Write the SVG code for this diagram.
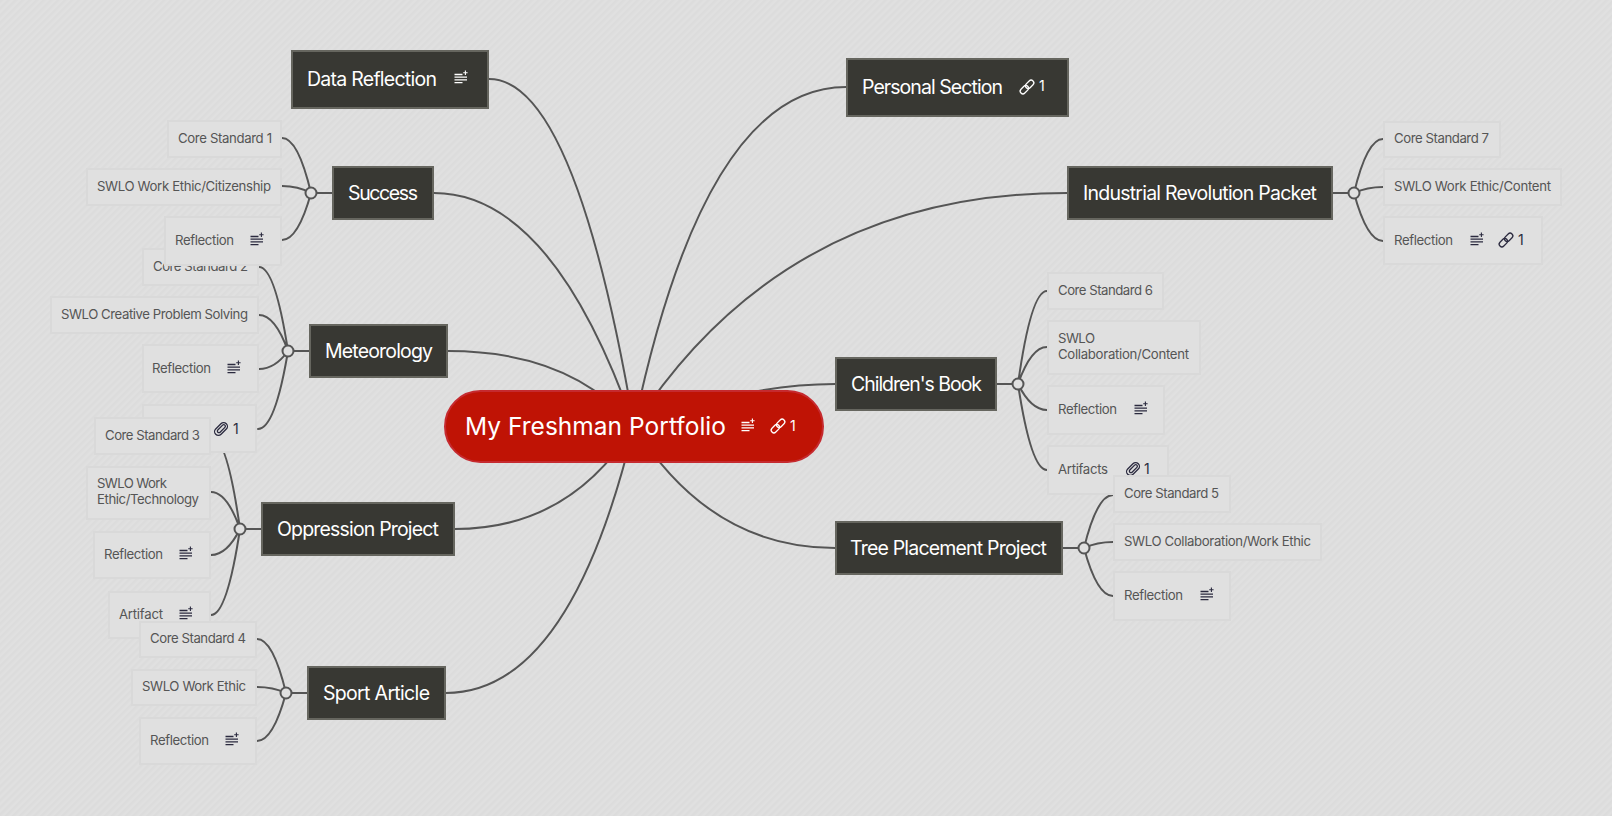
<svg xmlns="http://www.w3.org/2000/svg" width="1612" height="816" viewBox="0 0 1612 816">
<style>
text{font-family:Inter,"Liberation Sans",sans-serif}
.bg{fill:url(#hatch)}
.c{fill:none;stroke:#555;stroke-width:2;stroke-linecap:round}
.hub{fill:#e0e0e0;stroke:#555;stroke-width:2}
.r{fill:#bf1305;stroke:#c52a2f;stroke-width:2}
.m{fill:#383833;stroke:#66665f;stroke-width:2}
.s{fill:#e0e0e0;stroke:#d9d9d9;stroke-width:2}
.tr{fill:#fff;font-size:24.5px}
.tm{fill:#fff;font-size:19.5px;transform:translateY(.5px)}
.ts{fill:#555;font-size:13.2px}
.n{font-size:14px}
.w{color:#fff;fill:#fff}
.d{color:#2b2a3f;fill:#2b2a3f}
.ic{fill:none;stroke:currentColor;stroke-width:1.3}
</style>
<defs>
<pattern id="hatch" width="5" height="5" patternUnits="userSpaceOnUse" patternTransform="rotate(45)">
<rect width="5" height="5" fill="#e0e0e0"/><rect width="2.5" height="5" fill="#dcdcdc"/>
</pattern>
<g id="note" class="ic"><path d="M-6.5 -3.5H1.5M-6.5 -.8H6M-6.5 1.9H6M-6.5 4.6H1.5"/><path d="M2.2 -5.2H6.6M4.4 -7.4V-3" stroke-width="1.1"/></g>
<g id="link" class="ic"><g transform="rotate(-45)"><rect x="-8.5" y="-2.7" width="9.5" height="5.4" rx="2.7"/><rect x="-1" y="-2.7" width="9.5" height="5.4" rx="2.7"/></g></g>
<g id="clip" class="ic"><g transform="rotate(-45)"><rect x="-7.5" y="-3.8" width="15" height="7.6" rx="3.8"/><rect x="-4.5" y="-1.6" width="10" height="3.2" rx="1.6"/></g></g>
</defs>
<rect class="bg" width="1612" height="816"/>
<g id="connectors">
<path class="c" d="M489 79Q575 79 634 426"/>
<path class="c" d="M434 193Q552 193 634 426"/>
<path class="c" d="M448 351Q570 351 634 426"/>
<path class="c" d="M455 529Q570 529 634 426"/>
<path class="c" d="M446 693Q570 693 634 426"/>
<path class="c" d="M846 87Q705 87 634 426"/>
<path class="c" d="M1067 193Q785 193 634 426"/>
<path class="c" d="M835 384Q745 384 634 426"/>
<path class="c" d="M835 548Q710 548 634 426"/>
<path class="c" d="M311 193H332M282 138Q298 138 311 193M282 186Q298 186 311 193M282 240Q298 240 311 193"/>
<path class="c" d="M288 351H309M259 267Q275 267 288 351M259 315Q275 315 288 351M259 369Q275 369 288 351M258 429Q275 429 288 351"/>
<path class="c" d="M240 529H261M211 436Q227 436 240 529M211 492Q227 492 240 529M211 555Q227 555 240 529M211 615Q227 615 240 529"/>
<path class="c" d="M286 693H307M257 639Q273 639 286 693M257 687Q273 687 286 693M257 741Q273 741 286 693"/>
<path class="c" d="M1333 193H1354M1383 139Q1367 139 1354 193M1383 187Q1367 187 1354 193M1383 241Q1367 241 1354 193"/>
<path class="c" d="M997 384H1018M1047 291Q1031 291 1018 384M1047 347Q1031 347 1018 384M1047 410Q1031 410 1018 384M1047 470Q1031 470 1018 384"/>
<path class="c" d="M1063 548H1084M1113 495Q1097 495 1084 548M1113 542Q1097 542 1084 548M1113 596Q1097 596 1084 548"/>
</g>
<g id="meteorology">
<rect class="m" x="310" y="325" width="137" height="52"/><text class="tm" x="325" y="357" textLength="108">Meteorology</text>
<circle class="hub" cx="288" cy="351" r="5.5"/>
<rect class="s" x="143" y="249" width="115" height="36"/><text class="ts" x="153" y="271" textLength="95">Core Standard 2</text>
<rect class="s" x="51" y="297" width="207" height="36"/><text class="ts" x="61" y="319" textLength="187">SWLO Creative Problem Solving</text>
<rect class="s" x="143" y="345" width="115" height="47"/><text class="ts" x="152" y="373" textLength="59">Reflection</text><use href="#note" class="d" x="234" y="368"/>
<rect class="s" x="143" y="405" width="113" height="47"/><use href="#clip" class="d" x="221" y="429"/><text class="ts n d" x="233" y="434" style="fill:#2b2a3f">1</text>
</g>
<g id="success">
<rect class="m" x="333" y="167" width="100" height="52"/><text class="tm" x="348" y="199" textLength="70">Success</text>
<circle class="hub" cx="311" cy="193" r="5.5"/>
<rect class="s" x="168" y="121" width="113" height="36"/><text class="ts" x="178" y="143" textLength="94">Core Standard 1</text>
<rect class="s" x="87" y="169" width="194" height="36"/><text class="ts" x="97" y="191" textLength="174">SWLO Work Ethic/Citizenship</text>
<rect class="s" x="165" y="217" width="116" height="48"/><text class="ts" x="175" y="245" textLength="59">Reflection</text><use href="#note" class="d" x="257" y="240"/>
</g>
<g id="oppression-project">
<rect class="m" x="262" y="503" width="192" height="52"/><text class="tm" x="277" y="535" textLength="162">Oppression Project</text>
<circle class="hub" cx="240" cy="529" r="5.5"/>
<rect class="s" x="95" y="418" width="115" height="36"/><text class="ts" x="105" y="440" textLength="95">Core Standard 3</text>
<rect class="s" x="87" y="467" width="123" height="52"/><text class="ts" x="97" y="488" textLength="70">SWLO Work</text><text class="ts" x="97" y="504" textLength="102">Ethic/Technology</text>
<rect class="s" x="94" y="532" width="116" height="46"/><text class="ts" x="104" y="559" textLength="59">Reflection</text><use href="#note" class="d" x="186" y="554"/>
<rect class="s" x="109" y="592" width="101" height="46"/><text class="ts" x="119" y="619" textLength="44">Artifact</text><use href="#note" class="d" x="186" y="614"/>
</g>
<g id="sport-article">
<rect class="m" x="308" y="667" width="137" height="52"/><text class="tm" x="323" y="699" textLength="107">Sport Article</text>
<circle class="hub" cx="286" cy="693" r="5.5"/>
<rect class="s" x="140" y="622" width="116" height="35"/><text class="ts" x="150" y="643" textLength="96">Core Standard 4</text>
<rect class="s" x="132" y="670" width="124" height="35"/><text class="ts" x="142" y="691" textLength="104">SWLO Work Ethic</text>
<rect class="s" x="140" y="718" width="116" height="46"/><text class="ts" x="150" y="745" textLength="59">Reflection</text><use href="#note" class="d" x="232" y="740"/>
</g>
<g id="data-reflection">
<rect class="m" x="292" y="51" width="196" height="57"/><text class="tm" x="307" y="85" textLength="130">Data Reflection</text><use href="#note" class="w" x="461" y="78"/>
</g>
<g id="personal-section">
<rect class="m" x="847" y="59" width="221" height="57"/><text class="tm" x="862" y="93" textLength="141">Personal Section</text><use href="#link" class="w" x="1027" y="87"/><text class="ts n w" x="1039" y="91" style="fill:#fff">1</text>
</g>
<g id="industrial-revolution-packet">
<rect class="m" x="1068" y="167" width="264" height="52"/><text class="tm" x="1083" y="199" textLength="234">Industrial Revolution Packet</text>
<circle class="hub" cx="1354" cy="193" r="5.5"/>
<rect class="s" x="1384" y="122" width="116" height="35"/><text class="ts" x="1394" y="143" textLength="95">Core Standard 7</text>
<rect class="s" x="1384" y="169" width="177" height="36"/><text class="ts" x="1394" y="191" textLength="157">SWLO Work Ethic/Content</text>
<rect class="s" x="1384" y="217" width="158" height="47"/><text class="ts" x="1394" y="245" textLength="59">Reflection</text><use href="#note" class="d" x="1477" y="240"/><use href="#link" class="d" x="1506" y="240"/><text class="ts n d" x="1518" y="245" style="fill:#2b2a3f">1</text>
</g>
<g id="childrens-book">
<rect class="m" x="836" y="358" width="160" height="52"/><text class="tm" x="851" y="390" textLength="131">Children's Book</text>
<circle class="hub" cx="1018" cy="384" r="5.5"/>
<rect class="s" x="1048" y="273" width="115" height="36"/><text class="ts" x="1058" y="295" textLength="95">Core Standard 6</text>
<rect class="s" x="1048" y="321" width="152" height="53"/><text class="ts" x="1058" y="343" textLength="37">SWLO</text><text class="ts" x="1058" y="359" textLength="131">Collaboration/Content</text>
<rect class="s" x="1048" y="386" width="116" height="48"/><text class="ts" x="1058" y="414" textLength="59">Reflection</text><use href="#note" class="d" x="1141" y="409"/>
<rect class="s" x="1048" y="446" width="120" height="48"/><text class="ts" x="1058" y="474" textLength="50">Artifacts</text><use href="#clip" class="d" x="1133" y="469"/><text class="ts n d" x="1144" y="474" style="fill:#2b2a3f">1</text>
</g>
<g id="tree-placement-project">
<rect class="m" x="836" y="522" width="226" height="52"/><text class="tm" x="850" y="554" textLength="197">Tree Placement Project</text>
<circle class="hub" cx="1084" cy="548" r="5.5"/>
<rect class="s" x="1114" y="476" width="116" height="36"/><text class="ts" x="1124" y="498" textLength="95">Core Standard 5</text>
<rect class="s" x="1114" y="524" width="207" height="36"/><text class="ts" x="1124" y="546" textLength="187">SWLO Collaboration/Work Ethic</text>
<rect class="s" x="1114" y="572" width="116" height="48"/><text class="ts" x="1124" y="600" textLength="59">Reflection</text><use href="#note" class="d" x="1207" y="595"/>
</g>
<g id="root">
<rect class="r" x="445" y="391" width="378" height="71" rx="35.5"/><text class="tr" x="465" y="435" textLength="261">My Freshman Portfolio</text><use href="#note" class="w" x="748" y="426"/><use href="#link" class="w" x="778" y="426"/><text class="ts n w" x="790" y="431" style="fill:#fff">1</text>
</g>
</svg>
